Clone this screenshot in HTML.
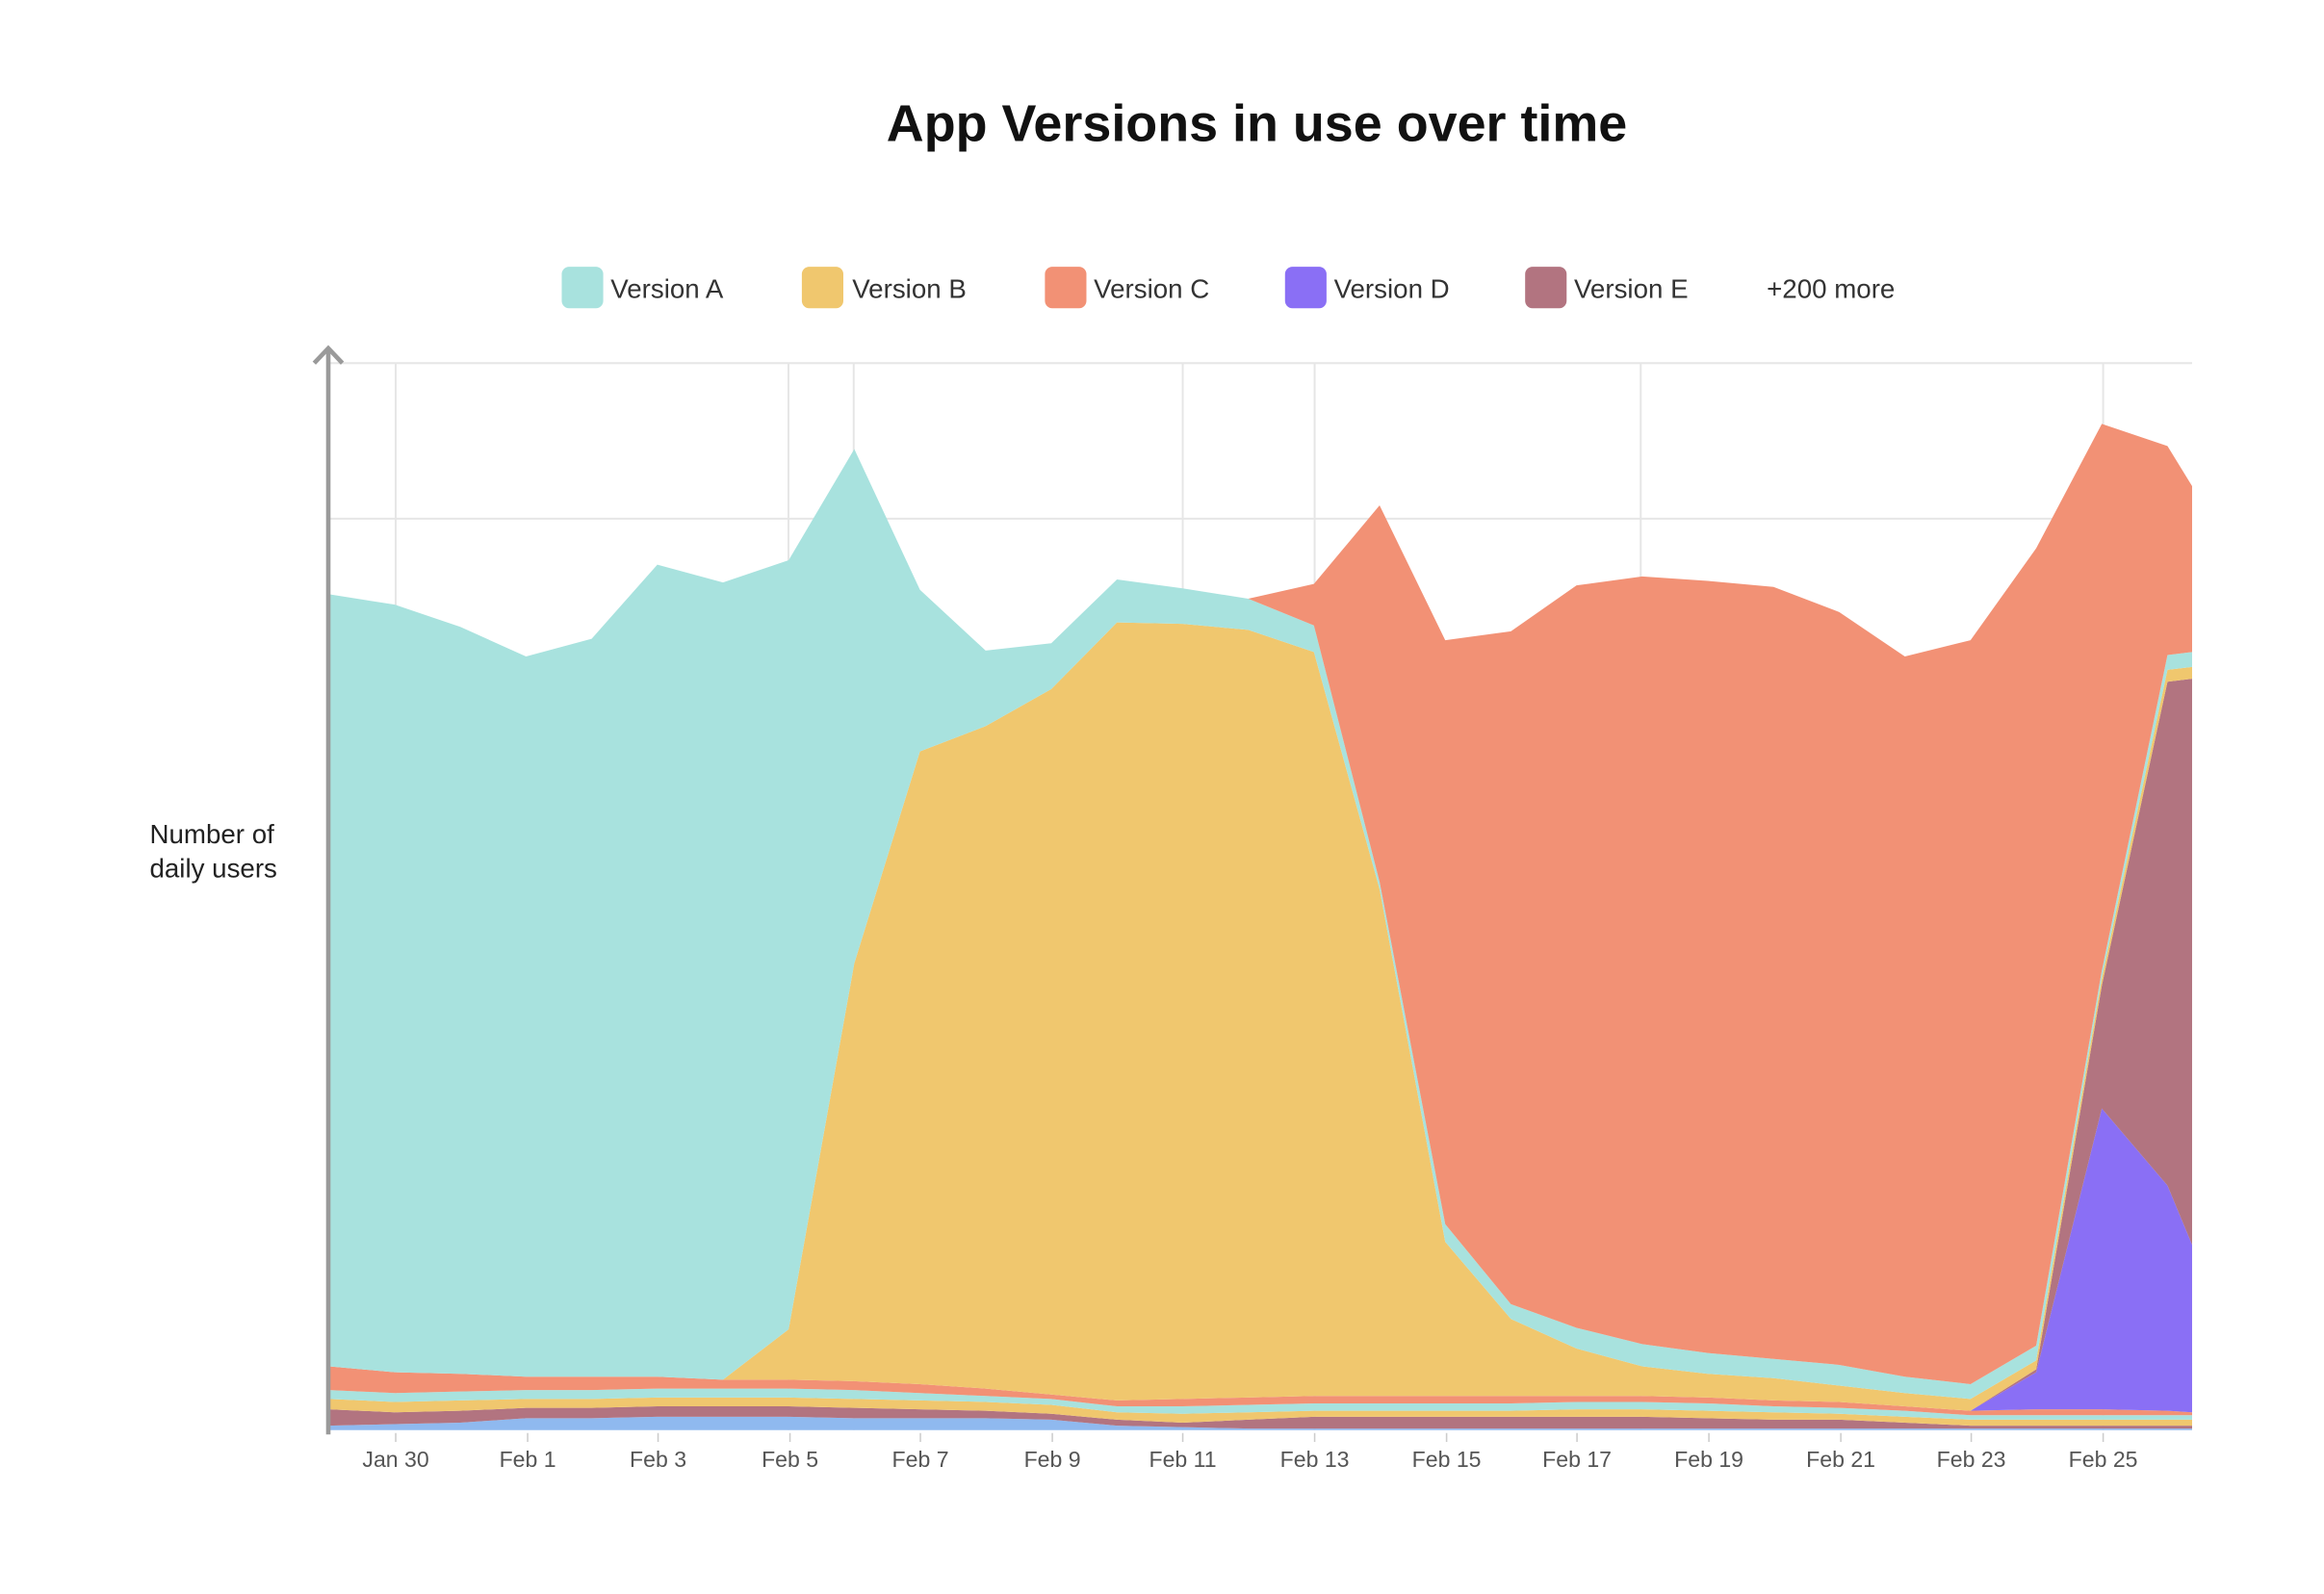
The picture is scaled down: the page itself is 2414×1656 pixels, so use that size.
<!DOCTYPE html>
<html><head><meta charset="utf-8"><style>
html,body{margin:0;padding:0;background:#fff;}
svg{display:block;}
text{font-family:"Liberation Sans",sans-serif;}
</style></head><body>
<svg id="s" width="2414" height="1656" viewBox="0 0 1568 1075.6" xmlns="http://www.w3.org/2000/svg">
<rect width="1568" height="1076" fill="#fff"/>
<text x="848" y="95" text-anchor="middle" font-size="35" font-weight="bold" fill="#111">App Versions in use over time</text>
<g font-size="18" fill="#333">
<rect x="379" y="180" width="28" height="28" rx="5" fill="#a8e2de"/><text x="412" y="201">Version A</text>
<rect x="541" y="180" width="28" height="28" rx="5" fill="#f0c76e"/><text x="575" y="201">Version B</text>
<rect x="705" y="180" width="28" height="28" rx="5" fill="#f29175"/><text x="738" y="201">Version C</text>
<rect x="867" y="180" width="28" height="28" rx="5" fill="#8a6ff5"/><text x="900" y="201">Version D</text>
<rect x="1029" y="180" width="28" height="28" rx="5" fill="#b27480"/><text x="1062" y="201">Version E</text>
<text x="1192" y="201">+200 more</text>
</g>
<text x="101" y="569" font-size="18" fill="#222">Number of</text>
<text x="101" y="592" font-size="18" fill="#222">daily users</text>
<g stroke="#e6e6e6" stroke-width="1.3">
<line x1="221" y1="245" x2="1479" y2="245"/><line x1="221" y1="350" x2="1479" y2="350"/>
<line x1="221" y1="455" x2="1479" y2="455"/>
<line x1="267" y1="245" x2="267" y2="965"/><line x1="532" y1="245" x2="532" y2="965"/>
<line x1="576" y1="245" x2="576" y2="965"/><line x1="798" y1="245" x2="798" y2="965"/>
<line x1="887" y1="245" x2="887" y2="965"/><line x1="1107" y1="245" x2="1107" y2="965"/>
<line x1="1419" y1="245" x2="1419" y2="965"/>
</g>
<g id="areas"></g>
<g id="ticks" stroke="#ccc" stroke-width="1"></g>
<g id="labels" font-size="15" fill="#555" text-anchor="middle"></g>
<line x1="221.5" y1="236" x2="221.5" y2="968" stroke="#9a9a9a" stroke-width="3"/>
<polyline points="212,245 221.5,235 231,245" fill="none" stroke="#9a9a9a" stroke-width="3"/>
</svg>
<script>
var N=30,xs=[];for(var i=0;i<29;i++)xs.push(222+44.3*i);xs.push(1479);
var base=[];for(i=0;i<N;i++)base.push(965);
var L1=[962,961,960,957,957,956,956,956,957,957,957,958,962,963,964,964,964,964,964,964,964,964,964,964,964,964,964,964,964,964];
var L2=[951,953,952,950,950,949,949,949,950,951,952,954,958,960,958,956,956,956,956,956,956,957,958,958,960,962,962,962,962,962];
var L3=[944,946,945,944,944,943,943,943,944,945,946,948,953,954,953,952,952,952,952,951,951,952,953,954,956,958,958,958,958,958];
var L4=[938,940,939,938,938,937,937,937,938,940,942,944,949,949,948,947,947,947,947,946,946,947,949,950,952,955,955,955,955,955];
var L5=[922,926,927,929,929,929,931,931,932,934,937,941,945,944,943,942,942,942,942,942,942,943,945,946,949,952,951,951,952,953];
var D=L5.slice();D[26]=926;D[27]=748;D[28]=800;D[29]=840;
var E=D.slice();E[26]=924;E[27]=665;E[28]=460;E[29]=458;
var B=[922,926,927,929,929,929,931,897,650,507,490,465,420,421,425,440,600,838,890,910,922,927,930,935,940,944,918,660,452,450];
var T=[401,408,423,443,431,381,393,378,303,398,439,434,391,397,404,394,341,432,426,395,389,392,396,413,443,432,370,286,301,328];
var A=T.slice(0,15).concat([422,595,826,880,896,907,913,917,921,929,934,908,655,442,440]);
for(i=0;i<N;i++){if(B[i]>E[i])B[i]=E[i];if(A[i]>B[i])A[i]=B[i];if(T[i]>A[i])T[i]=A[i];}
var layers=[[base,L1,"#8fb9ef"],[L1,L2,"#b27480"],[L2,L3,"#f0c76e"],[L3,L4,"#a8e2de"],[L4,L5,"#f29175"],[L5,D,"#8a6ff5"],[D,E,"#b27480"],[E,B,"#f0c76e"],[B,A,"#a8e2de"],[A,T,"#f29175"]];
var g=document.getElementById("areas"),ns="http://www.w3.org/2000/svg";
layers.forEach(function(l){var p=[];for(var i=0;i<N;i++)p.push(xs[i]+","+l[1][i]);for(i=N-1;i>=0;i--)p.push(xs[i]+","+l[0][i]);
var e=document.createElementNS(ns,"polygon");e.setAttribute("points",p.join(" "));e.setAttribute("fill",l[2]);g.appendChild(e);});
var labs=[["Jan 30",267],["Feb 1",356],["Feb 3",444],["Feb 5",533],["Feb 7",621],["Feb 9",710],["Feb 11",798],["Feb 13",887],["Feb 15",976],["Feb 17",1064],["Feb 19",1153],["Feb 21",1242],["Feb 23",1330],["Feb 25",1419]];
var tg=document.getElementById("ticks"),lg=document.getElementById("labels");
labs.forEach(function(l){var t=document.createElementNS(ns,"line");t.setAttribute("x1",l[1]);t.setAttribute("x2",l[1]);t.setAttribute("y1",967);t.setAttribute("y2",973);tg.appendChild(t);
var x=document.createElementNS(ns,"text");x.setAttribute("x",l[1]);x.setAttribute("y",990);x.textContent=l[0];lg.appendChild(x);});
</script>
</body></html>
